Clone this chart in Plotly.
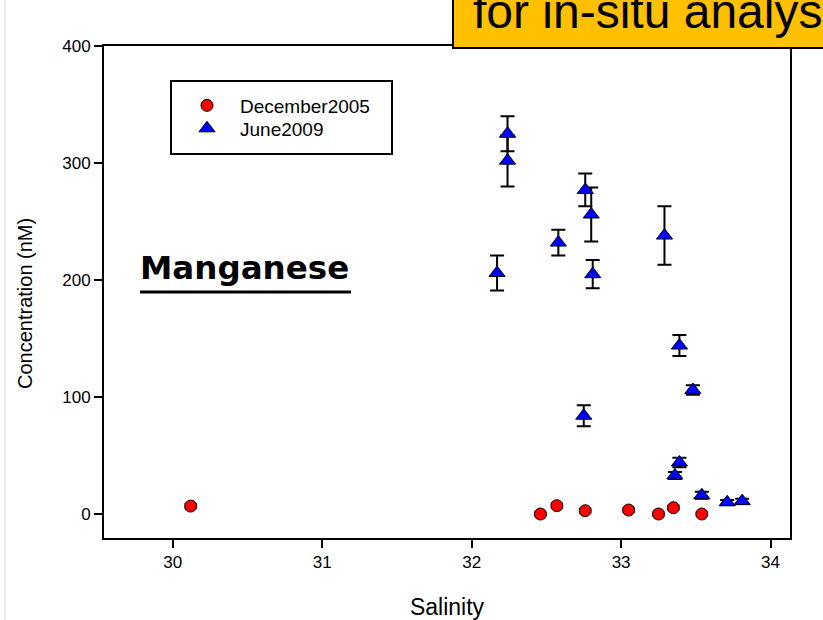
import plotly.graph_objects as go

# ---- data ----
dec_salinity = [30.12, 32.46, 32.57, 32.76, 33.05, 33.25, 33.35, 33.54]
dec_conc = [6.8, 0.0, 7.1, 2.8, 3.4, 0.0, 5.4, 0.0]
dec_err = [2.0, 1.5, 2.0, 2.0, 2.0, 1.5, 2.0, 1.5]

jun_salinity = [32.17, 32.24, 32.24, 32.58, 32.76, 32.80, 32.81, 33.29, 33.39,
                33.48, 32.75, 33.39, 33.36, 33.54, 33.71, 33.81]
jun_conc = [206, 325, 302, 232, 277, 256, 205, 238, 144,
            106, 84, 44, 33, 16, 10, 11]
jun_err = [15, 15, 22, 11, 14, 23, 12, 25, 9,
           4, 9, 4, 3, 3, 2, 2]

x_ticks = [30, 31, 32, 33, 34]
y_ticks = [0, 100, 200, 300, 400]

FONT = "Arial, Liberation Sans, sans-serif"

# plot area in pixels
L, R, T, B = 104, 790, 46, 538
W, H = 823, 620
PW, PH = R - L, B - T


def px(xp):
    return (xp - L) / PW


def py(yp):
    return (B - yp) / PH


fig = go.Figure()

fig.add_trace(go.Scatter(
    x=dec_salinity, y=dec_conc, mode="markers", name="December2005",
    legend="legend",
    marker=dict(symbol="circle", size=12, color="#FF0000",
                line=dict(color="black", width=1)),
    error_y=dict(type="data", array=dec_err, color="black", thickness=1.5, width=6),
))
fig.add_trace(go.Scatter(
    x=jun_salinity, y=jun_conc, mode="markers", name="June2009",
    legend="legend2",
    marker=dict(symbol="triangle-up", size=14, color="#0000FF",
                line=dict(color="black", width=1)),
    error_y=dict(type="data", array=jun_err, color="black", thickness=2, width=7),
))

shapes = [
    # faint slide edge on the left
    dict(type="line", xref="paper", yref="paper", x0=px(5), x1=px(5),
         y0=py(0), y1=py(620), line=dict(color="#dddddd", width=1), layer="below"),
    # legend frame
    dict(type="rect", xref="paper", yref="paper", x0=px(171), x1=px(392),
         y0=py(154), y1=py(81), line=dict(color="black", width=2),
         fillcolor="white", layer="below"),
    # underline of "Manganese"
    dict(type="line", xref="paper", yref="paper", x0=px(140), x1=px(351),
         y0=py(292), y1=py(292), line=dict(color="black", width=3), layer="above"),
    # orange banner
    dict(type="rect", xref="paper", yref="paper", x0=px(453), x1=px(832),
         y0=py(48), y1=py(-12), line=dict(color="black", width=2),
         fillcolor="#FFC000", layer="above"),
]

annotations = [
    dict(text="<b>Manganese</b>", xref="paper", yref="paper",
         x=px(138), y=py(268), xanchor="left", yanchor="middle", showarrow=False,
         font=dict(family="DejaVu Sans", size=32.5, color="black")),
    dict(text="for in-situ analys", xref="paper", yref="paper",
         x=px(471), y=py(11), xanchor="left", yanchor="middle", showarrow=False,
         font=dict(family=FONT, size=48, color="black")),
    dict(text="Concentration (nM)", xref="paper", yref="paper",
         x=px(25), y=py(304), xanchor="center", yanchor="middle", showarrow=False,
         textangle=-90, font=dict(family=FONT, size=20, color="black")),
]

legend_common = dict(xanchor="left", yanchor="top", bgcolor="rgba(0,0,0,0)",
                     borderwidth=0, font=dict(family=FONT, size=19, color="black"),
                     itemwidth=56)

fig.update_layout(
    width=W, height=H, autosize=False,
    margin=dict(l=L, r=W - R, t=T, b=H - B, pad=0),
    paper_bgcolor="white", plot_bgcolor="white",
    font=dict(family=FONT, color="black"),
    showlegend=True,
    legend=dict(x=px(174), y=py(86.5), **legend_common),
    legend2=dict(x=px(174), y=py(109.5), **legend_common),
    shapes=shapes,
    annotations=annotations,
)

fig.update_xaxes(
    range=[29.54, 34.13], tickvals=x_ticks, ticktext=[str(v) for v in x_ticks],
    showgrid=False, zeroline=False, showline=True, linecolor="black", linewidth=2,
    mirror=True, ticks="outside", ticklen=8, tickwidth=2, tickcolor="black",
    tickfont=dict(family=FONT, size=17, color="black"), automargin=False,
    title=dict(text="Salinity", font=dict(family=FONT, size=23, color="black"), standoff=28),
)
fig.update_yaxes(
    range=[-20.5, 400], tickvals=y_ticks, ticktext=[str(v) for v in y_ticks],
    showgrid=False, zeroline=False, showline=True, linecolor="black", linewidth=2,
    mirror=True, ticks="outside", ticklen=8, tickwidth=2, tickcolor="black",
    tickfont=dict(family=FONT, size=17, color="black"), automargin=False,
)

fig.write_html("out.html")
